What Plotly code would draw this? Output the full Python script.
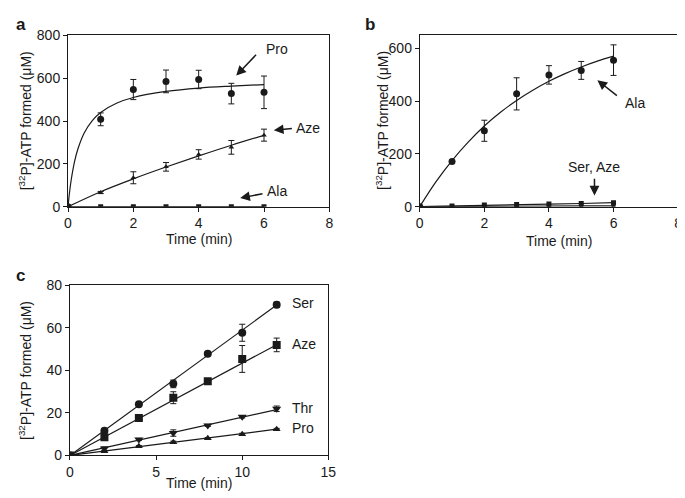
import plotly.graph_objects as go

# ---- panel a: [32P]-ATP formed vs time ----
t_a = [0, 1, 2, 3, 4, 5, 6]
pro_a = [0, 408, 547, 585, 594, 528, 534]
pro_a_err = [0, 30, 47, 53, 43, 48, 76]
aze_a = [0, 66, 135, 186, 244, 277, 334]
aze_a_err = [0, 5, 28, 20, 22, 32, 28]
ala_a = [0, 0, 0, 0, 0, 0, 0]
pro_a_fit_t = [0, 0.05, 0.1, 0.2, 0.3, 0.5, 0.75, 1, 1.5, 2, 3, 4, 5, 6]
pro_a_fit = [0, 71, 127, 210, 268, 345, 403, 440, 484, 510, 538, 554, 563, 570]
aze_a_fit = [0, 70, 130, 185, 237, 287, 333]

# ---- panel b ----
t_b = [0, 1, 2, 3, 4, 5, 6]
ala_b = [0, 171, 288, 428, 500, 517, 556]
ala_b_err = [0, 0, 40, 61, 35, 34, 58]
ala_b_fit_t = [0, 0.5, 1, 1.5, 2, 2.5, 3, 3.5, 4, 4.5, 5, 5.5, 6]
ala_b_fit = [0, 94, 175, 245, 306, 358, 403, 442, 476, 505, 530, 552, 571]
ser_b = [0, 3, 6, 8, 10, 12, 15]
aze_b = [0, 1, 1, 2, 2, 3, 3]

# ---- panel c ----
t_c = [0, 2, 4, 6, 8, 10, 12]
ser_c = [0, 11.6, 24.0, 33.6, 47.8, 57.6, 70.7]
ser_c_err = [0, 0.5, 0.5, 1.8, 0.8, 4.0, 1.3]
aze_c = [0, 8.5, 17.6, 27.1, 34.8, 45.3, 51.9]
aze_c_err = [0, 0.5, 0.8, 2.8, 0.8, 6.3, 3.2]
thr_c = [0, 3.2, 7.5, 10.5, 14.1, 18.1, 21.9]
thr_c_err = [0, 0.8, 0.5, 1.5, 0.5, 0.5, 1.3]
pro_c = [0, 2.0, 4.3, 6.2, 8.1, 9.9, 12.3]
pro_c_err = [0, 0.3, 0.3, 0.5, 0.3, 0.5, 0.4]
fit_c_t = [0, 12]
ser_c_fit = [0, 70.6]
aze_c_fit = [0, 52.0]
thr_c_fit = [0, 21.5]
pro_c_fit = [0, 12.3]

INK = "#1a1a1a"
FONT = "Liberation Sans, Arial, sans-serif"

fig = go.Figure()

def pts(x, y, err, symbol, xa, ya, size=6):
	fig.add_trace(go.Scatter(
		x=x, y=y, mode="markers", xaxis=xa, yaxis=ya,
		marker=dict(symbol=symbol, size=size, color=INK),
		error_y=dict(type="data", array=err, visible=err is not None,
			color=INK, thickness=1, width=3),
		showlegend=False))

def curve(x, y, xa, ya, shape="spline"):
	fig.add_trace(go.Scatter(
		x=x, y=y, mode="lines", xaxis=xa, yaxis=ya,
		line=dict(color=INK, width=1.2, shape=shape),
		showlegend=False))

# panel a
curve(pro_a_fit_t, pro_a_fit, "x", "y")
curve(t_a, aze_a_fit, "x", "y")
curve(t_a, ala_a, "x", "y", "linear")
pts(t_a, pro_a, pro_a_err, "circle", "x", "y", 7)
pts(t_a, aze_a, aze_a_err, "triangle-up", "x", "y", 5)
pts(t_a, ala_a, None, "square", "x", "y", 5)

# panel b
curve(ala_b_fit_t, ala_b_fit, "x2", "y2")
curve(t_b, ser_b, "x2", "y2", "linear")
curve(t_b, aze_b, "x2", "y2", "linear")
pts(t_b, ala_b, ala_b_err, "circle", "x2", "y2", 7)
pts(t_b, ser_b, None, "square", "x2", "y2", 5)
pts(t_b, aze_b, None, "square", "x2", "y2", 4)

# panel c
curve(fit_c_t, ser_c_fit, "x3", "y3", "linear")
curve(fit_c_t, aze_c_fit, "x3", "y3", "linear")
curve(fit_c_t, thr_c_fit, "x3", "y3", "linear")
curve(fit_c_t, pro_c_fit, "x3", "y3", "linear")
pts(t_c, ser_c, ser_c_err, "circle", "x3", "y3", 8)
pts(t_c, aze_c, aze_c_err, "square", "x3", "y3", 8)
pts(t_c, thr_c, thr_c_err, "triangle-down", "x3", "y3", 8)
pts(t_c, pro_c, pro_c_err, "triangle-up", "x3", "y3", 7)

ax = dict(showline=True, linecolor=INK, linewidth=1, mirror=True,
	ticks="outside", ticklen=4, tickcolor=INK, showgrid=False, zeroline=False,
	ticklabeloverflow="allow",
	tickfont=dict(family=FONT, size=14, color=INK))

W, H = 685, 498
def dx(a, b): return [a / W, b / W]
def dy(top, bot): return [1 - bot / H, 1 - top / H]

fig.update_layout(
	width=W, height=H, margin=dict(l=0, r=0, t=0, b=0),
	plot_bgcolor="white", paper_bgcolor="white",
	xaxis=dict(ax, domain=dx(57, 323), range=[0, 8], tickvals=[0, 2, 4, 6, 8], anchor="y"),
	yaxis=dict(ax, domain=dy(20, 197), range=[0, 800], tickvals=[0, 200, 400, 600, 800], anchor="x"),
	xaxis2=dict(ax, domain=dx(415, 678), range=[0, 8], tickvals=[0, 2, 4, 6, 8], anchor="y2"),
	yaxis2=dict(ax, domain=dy(20, 197), range=[0, 650], tickvals=[0, 200, 400, 600], anchor="x2"),
	xaxis3=dict(ax, domain=dx(59, 322), range=[0, 15], tickvals=[0, 5, 10, 15], anchor="y3"),
	yaxis3=dict(ax, domain=dy(278, 454), range=[0, 80], tickvals=[0, 20, 40, 60, 80], anchor="x3"),
)

ytitle = "[<sup>32</sup>P]-ATP formed (\u03bcM)"
ann = []
def paper_text(text, x, y, size=13, angle=0, bold=False):
	ann.append(dict(text="<b>%s</b>" % text if bold else text, x=x / W, y=1 - y / H,
		xref="paper", yref="paper", showarrow=False, textangle=angle,
		xanchor="center", yanchor="middle",
		font=dict(family=FONT, size=size, color=INK)))

paper_text("a", 9, 9, 17, bold=True)
paper_text("b", 364, 9, 17, bold=True)
paper_text("c", 9, 268, 17, bold=True)
paper_text(ytitle, 13, 108, 14, -90)
paper_text(ytitle, 376, 108, 14, -90)
paper_text(ytitle, 14, 366, 14, -90)
paper_text("Time (min)", 190, 230, 14)
paper_text("Time (min)", 557, 232, 14)
paper_text("Time (min)", 190, 482, 14)

def label(text, x, y, xa, ya, anchor="center"):
	ann.append(dict(text=text, x=x, y=y, xref=xa, yref=ya, showarrow=False,
		xanchor=anchor, yanchor="middle", font=dict(family=FONT, size=14, color=INK)))

def arrow(x0, y0, x1, y1, xa, ya):
	ann.append(dict(text="", x=x1, y=y1, ax=x0, ay=y0, xref=xa, yref=ya,
		axref=xa, ayref=ya, showarrow=True, arrowhead=2, arrowsize=1.3,
		arrowwidth=1.5, arrowcolor=INK))

label("Pro", 6.4, 737, "x", "y")
arrow(5.8, 716, 5.15, 612, "x", "y")
label("Aze", 7.35, 366, "x", "y")
arrow(6.9, 366, 6.3, 357, "x", "y")
label("Ala", 6.4, 72, "x", "y")
arrow(6.0, 62, 5.27, 40, "x", "y")

label("Ala", 6.65, 395, "x2", "y2")
arrow(6.15, 417, 5.5, 480, "x2", "y2")
label("Ser, Aze", 5.41, 152, "x2", "y2")
arrow(5.41, 112, 5.41, 42, "x2", "y2")

label("Ser", 12.75, 71.5, "x3", "y3", "left")
label("Aze", 12.75, 52.3, "x3", "y3", "left")
label("Thr", 12.75, 22.2, "x3", "y3", "left")
label("Pro", 12.75, 12.8, "x3", "y3", "left")

fig.update_layout(annotations=ann)
fig.write_html("out.html")
